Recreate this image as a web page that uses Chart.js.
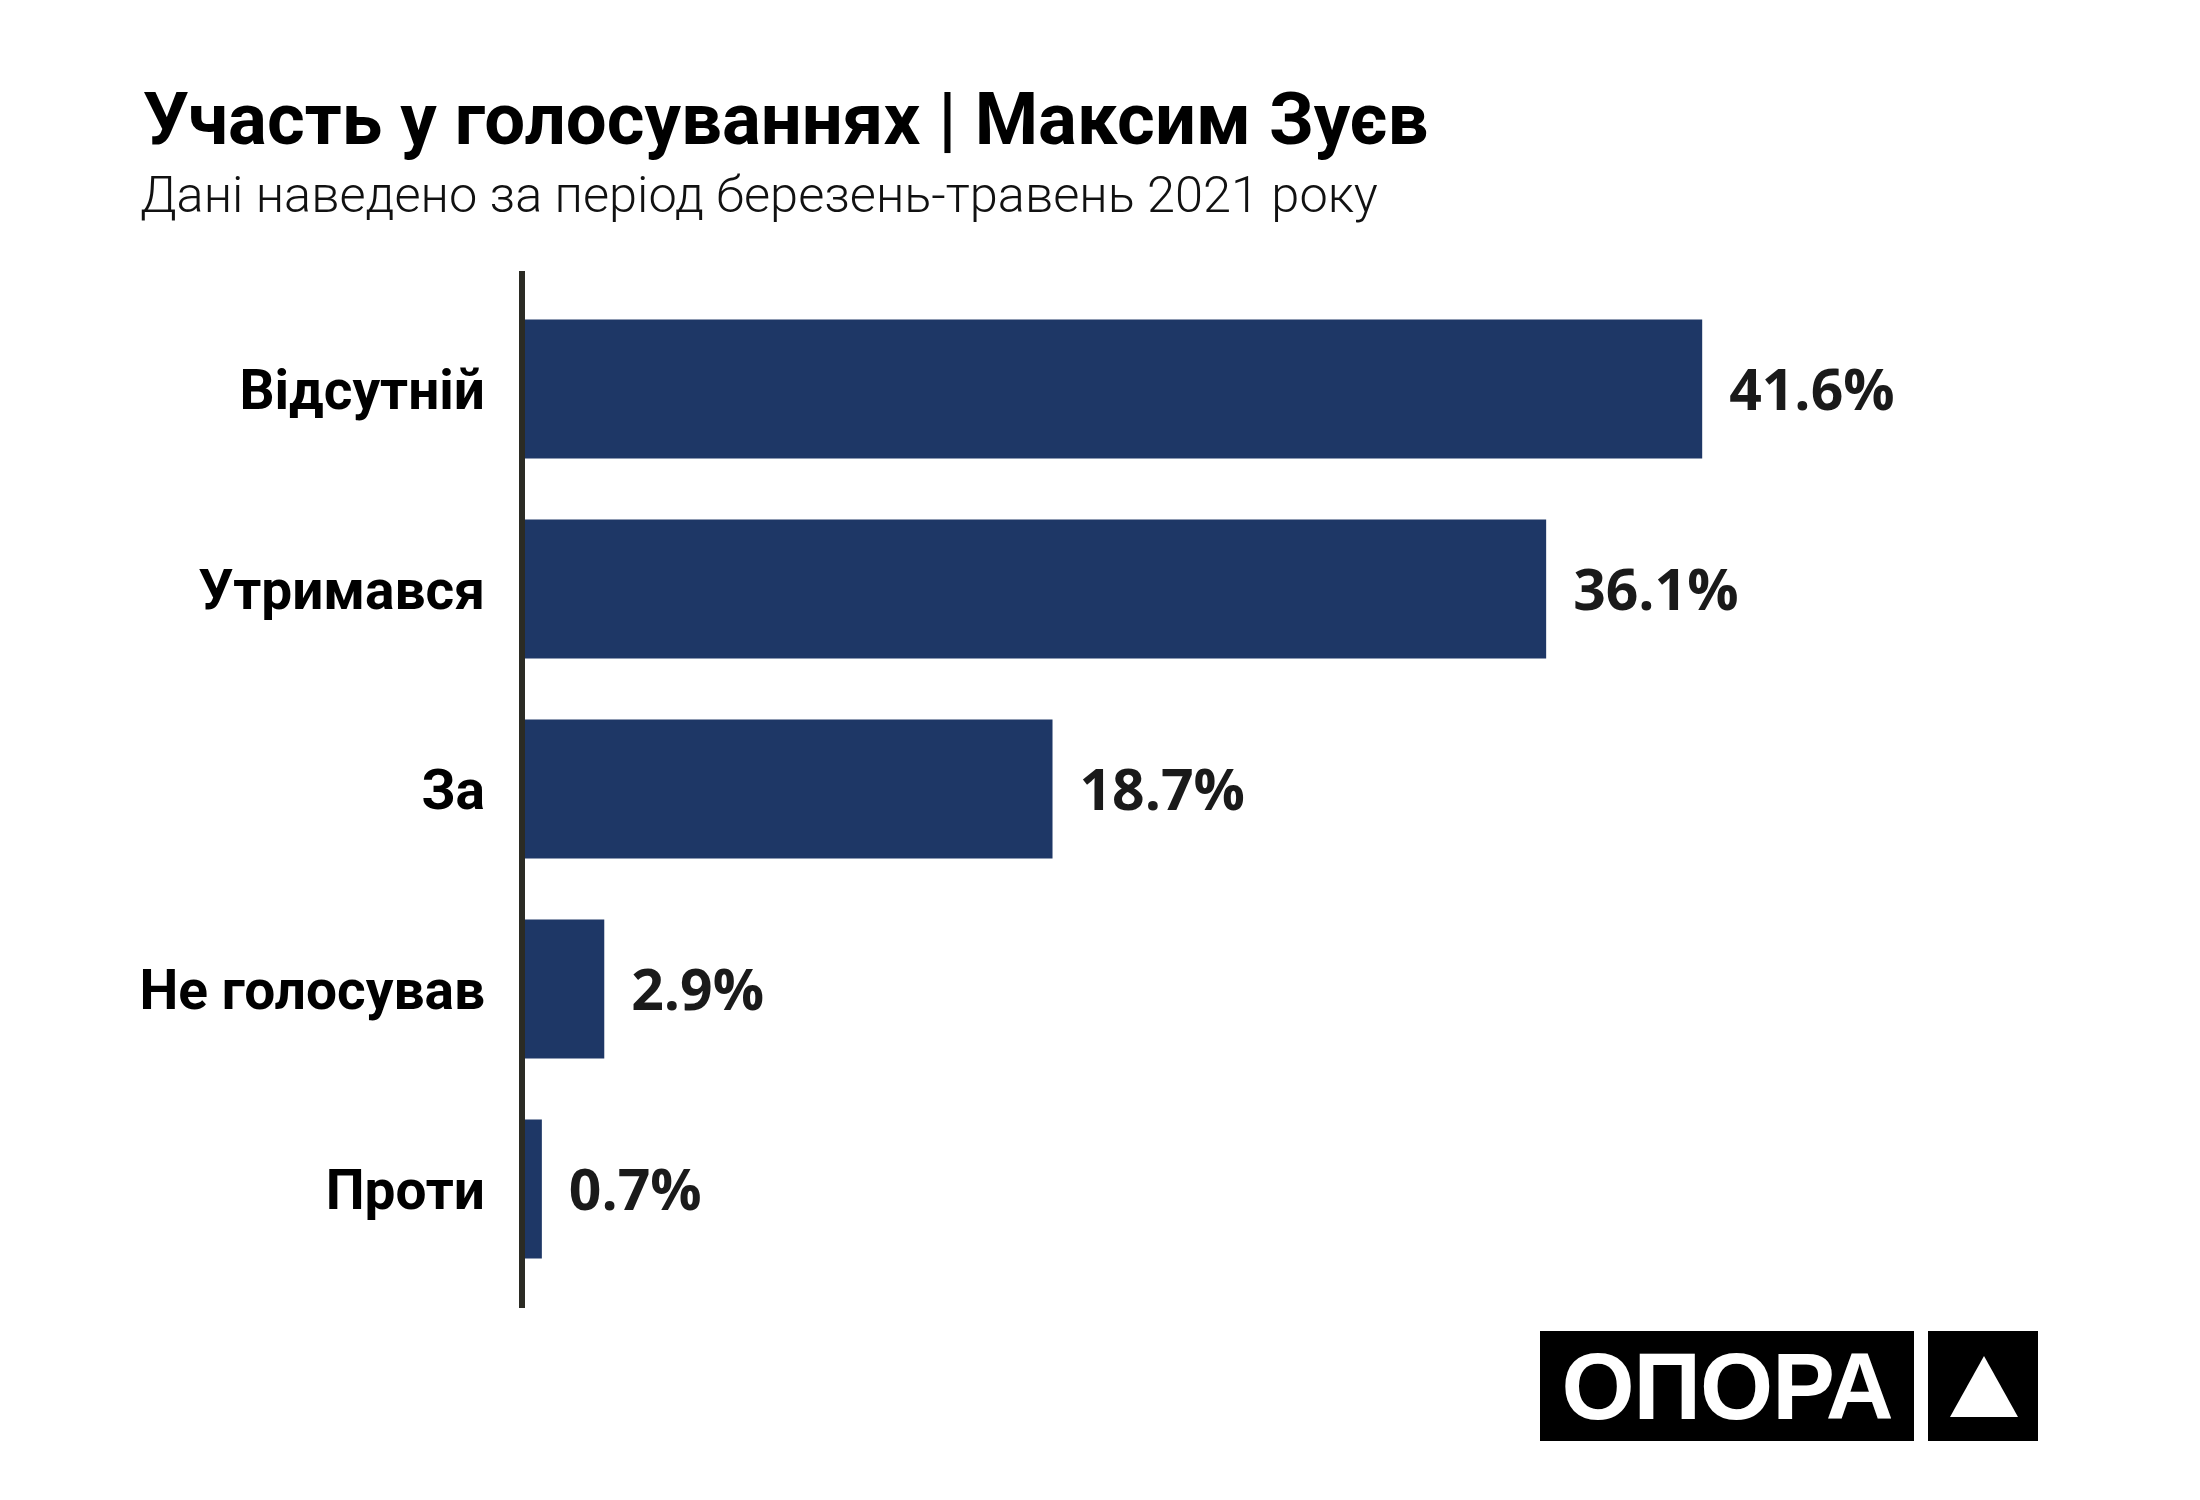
<!DOCTYPE html>
<html>
<head>
<meta charset="utf-8">
<script src="https://cdn.jsdelivr.net/npm/chart.js@4.4.1/dist/chart.umd.min.js"></script>
<style>
  body { margin: 0; background: #fff; }
  #wrap { position: relative; width: 2200px; height: 1500px; overflow: hidden; }
  #chart { position: absolute; left: 0; top: 0; }
  .txt { position: absolute; white-space: nowrap; color: #000; }
  #title { left: 143px; top: 84px; font: 700 72.5px/72px Roboto, sans-serif; }
  #subtitle { left: 140px; top: 170px; font: 300 50.5px/50px Roboto, sans-serif; color: #111; }
  #logo { position: absolute; left: 1540px; top: 1331px; width: 374px; height: 110px; background: #000;
          color: #fff; font: 700 94px/112px "Liberation Sans", Arial, sans-serif; text-align: center; letter-spacing: -1px; }
  #tri-box { position: absolute; left: 1928px; top: 1331px; width: 110px; height: 110px; background: #000; }
  #tri { position: absolute; left: 22px; top: 25px; width: 0; height: 0;
         border-left: 34px solid transparent; border-right: 34px solid transparent; border-bottom: 61px solid #fff; }
</style>
</head>
<body>
<div id="wrap">
  <canvas id="chart" width="2200" height="1500"></canvas>
  <div class="txt" id="title">Участь у голосуваннях | Максим Зуєв</div>
  <div class="txt" id="subtitle">Дані наведено за період березень-травень 2021 року</div>
  <div id="logo">ОПОРА</div>
  <div id="tri-box"><div id="tri"></div></div>
</div>
<script>
// дані
const categories = ['Відсутній', 'Утримався', 'За', 'Не голосував', 'Проти'];
const shares = [41.6, 36.1, 18.7, 2.9, 0.7];
const xMax = 50;

// вісь і підписи значень
const axisAndLabels = {
  id: 'axisAndLabels',
  afterDatasetsDraw(chart) {
    const ctx = chart.ctx;
    const area = chart.chartArea;
    const x0 = chart.scales.x.getPixelForValue(0);
    ctx.save();
    ctx.strokeStyle = '#2b2b24';
    ctx.lineWidth = 6;
    ctx.beginPath();
    ctx.moveTo(x0, area.top - 18);
    ctx.lineTo(x0, area.bottom + 19);
    ctx.stroke();

    const meta = chart.getDatasetMeta(0);
    ctx.fillStyle = '#1a1a1a';
    ctx.font = '700 57px "Open Sans", sans-serif';
    ctx.textAlign = 'left';
    ctx.textBaseline = 'alphabetic';
    meta.data.forEach((bar, i) => {
      ctx.fillText(shares[i].toFixed(1) + '%', bar.x + 27, bar.y + 21);
    });
    ctx.restore();
  }
};

const ctx = document.getElementById('chart').getContext('2d');
new Chart(ctx, {
  type: 'bar',
  data: {
    labels: categories,
    datasets: [{
      data: shares,
      backgroundColor: '#1e3766',
      borderWidth: 0,
      barPercentage: 0.695,
      categoryPercentage: 1
    }]
  },
  options: {
    indexAxis: 'y',
    responsive: false,
    animation: false,
    layout: { padding: { top: 289, bottom: 211, left: 0, right: 2200 - 522 - xMax * 28.37 } },
    plugins: { legend: { display: false }, tooltip: { enabled: false } },
    scales: {
      x: { display: false, min: 0, max: xMax },
      y: {
        grid: { display: false, drawTicks: false },
        border: { display: false },
        ticks: {
          color: '#000',
          padding: 37,
          labelOffset: 6,
          font: { family: 'Roboto', weight: 'bold', size: 55 }
        },
        afterFit(scale) { scale.width = 522; }
      }
    }
  },
  plugins: [axisAndLabels]
});
</script>
</body>
</html>
